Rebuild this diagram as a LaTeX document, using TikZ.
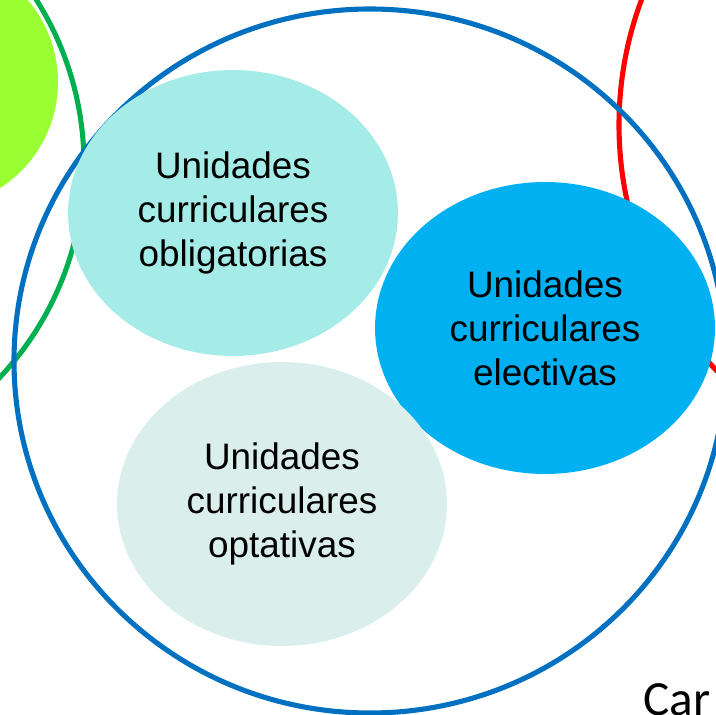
\documentclass[tikz,border=0pt]{standalone}
\usepackage{fontspec}
\setmainfont{Liberation Sans}
\newfontfamily\carfont{Carlito}
\usetikzlibrary{shapes.geometric}

\definecolor{lima}{RGB}{153,255,51}
\definecolor{verde}{RGB}{0,176,80}
\definecolor{rojo}{RGB}{255,0,0}
\definecolor{azul}{RGB}{0,112,192}
\definecolor{obligcol}{RGB}{165,236,232}
\definecolor{electcol}{RGB}{0,176,240}
\definecolor{optatcol}{RGB}{218,239,236}

\begin{document}
\begin{tikzpicture}[x=0.02cm,y=0.02cm,
    ring/.style={line width=2.9pt},
    unidad/.style={ellipse,draw=none,inner sep=0pt,align=center,
      font=\fontsize{21}{25}\selectfont}]
  \useasboundingbox (0,0) rectangle (716,714);

  \fill[color=lima] (-68,632) circle (126);
  \draw[ring,color=verde] (-226,549) circle (310);
  \draw[ring,color=rojo] (977,589) circle (358);
  \draw[ring,color=azul] (370,353) ellipse [x radius=356,y radius=352];

  \node[unidad,fill=obligcol,minimum width=6.6cm,minimum height=5.72cm] (oblig) at (233,501)
    {Unidades\\curriculares\\obligatorias};
  \node[unidad,fill=electcol,minimum width=6.8cm,minimum height=5.84cm] (elect) at (545,386)
    {Unidades\\curriculares\\electivas};
  \node[unidad,fill=optatcol,minimum width=6.6cm,minimum height=5.68cm] (optat) at (282,210)
    {Unidades\\curriculares\\optativas};

  \node[anchor=base west,inner sep=0pt,font=\carfont\fontsize{28}{30}\selectfont] (car) at (643,-1) {Car};
\end{tikzpicture}
\end{document}
